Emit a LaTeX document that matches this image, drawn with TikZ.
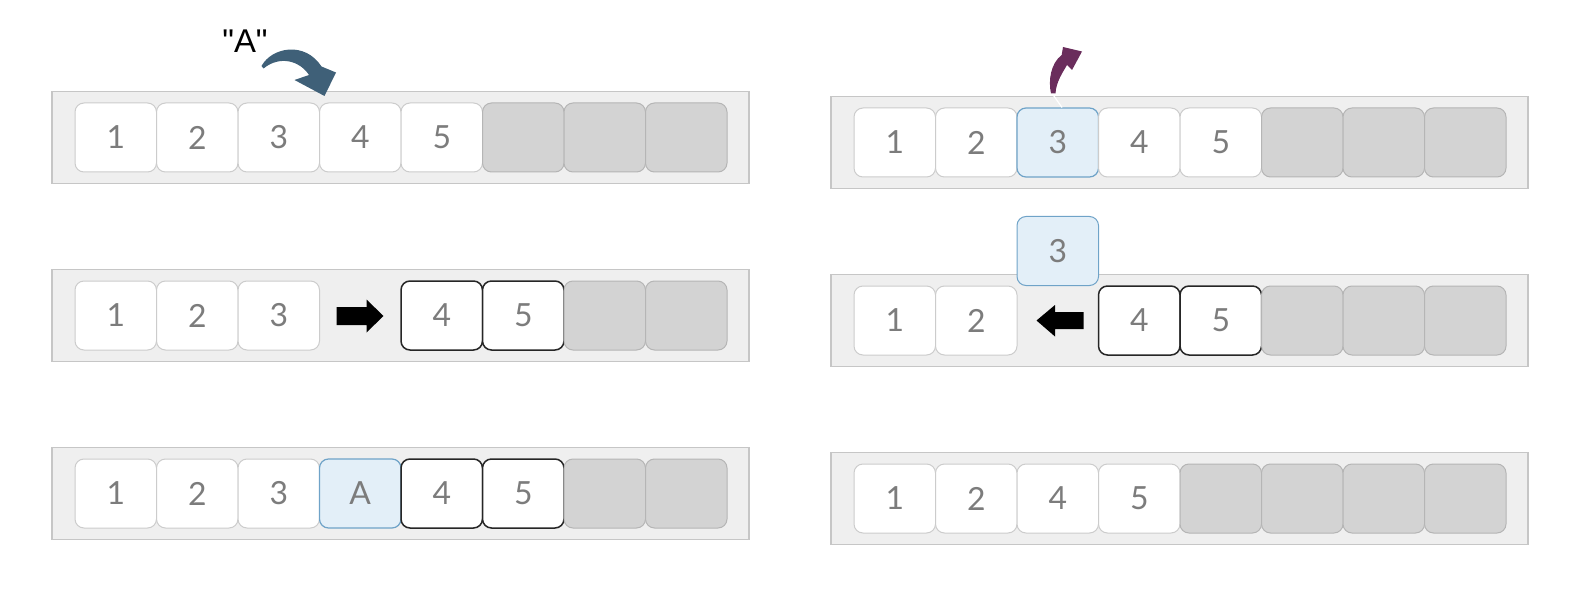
\documentclass[tikz,border=0pt]{standalone}
\usepackage{fontspec}
\setmainfont{Lato}
\newfontfamily\labelfont{Liberation Sans}
\definecolor{contfill}{HTML}{EFEFEF}
\definecolor{contline}{HTML}{C6C6C6}
\definecolor{cellline}{HTML}{CCCCCC}
\definecolor{greyfill}{HTML}{D3D3D3}
\definecolor{greyline}{HTML}{B5B5B5}
\definecolor{bluefill}{HTML}{E3EFF8}
\definecolor{blueline}{HTML}{6FA3C8}
\definecolor{digit}{HTML}{7C7C7C}
\definecolor{slatearrow}{HTML}{3F6078}
\definecolor{plumarrow}{HTML}{6A2D5C}
\tikzset{
  container/.style={draw=contline, fill=contfill, line width=1.2bp, minimum width=697bp, minimum height=92bp, inner sep=0pt},
  cellbase/.style={rounded corners=9bp, minimum width=81.5bp, minimum height=69bp, inner sep=0pt, font=\fontsize{32}{32}\selectfont, text=digit},
  wcell/.style={cellbase, draw=cellline, fill=white, line width=1bp},
  gcell/.style={cellbase, draw=greyline, fill=greyfill, line width=1bp},
  bcell/.style={cellbase, draw=blueline, fill=bluefill, line width=1.2bp},
  kcell/.style={cellbase, draw=black!85, fill=white, line width=1.5bp},
}
\begin{document}
\begin{tikzpicture}[x=1bp,y=-1bp]
\useasboundingbox (0,0) rectangle (1572,610);
% ---------------- left column ----------------
\node[container] (L1) at (400.5,137.5) {};
\node[container] (L2) at (400.5,315.5) {};
\node[container] (L3) at (400.5,493.5) {};
\foreach \i/\s/\t in {1/wcell/1,2/wcell/2,3/wcell/3,4/wcell/4,5/wcell/5,6/gcell/,7/gcell/,8/gcell/}{
  \node[\s] (La\i) at ({115.75+81.5*(\i-1)},137.5) {\t};
}
\foreach \i/\s/\t in {1/wcell/1,2/wcell/2,3/wcell/3,5/kcell/4,6/kcell/5,7/gcell/,8/gcell/}{
  \node[\s] (Lb\i) at ({115.75+81.5*(\i-1)},315.5) {\t};
}
\foreach \i/\s/\t in {1/wcell/1,2/wcell/2,3/wcell/3,4/bcell/A,5/kcell/4,6/kcell/5,7/gcell/,8/gcell/}{
  \node[\s] (Lc\i) at ({115.75+81.5*(\i-1)},493.5) {\t};
}
% ---------------- right column ----------------
\node[container] (R1) at (1179.5,142.5) {};
\node[container] (R2) at (1179.5,320.5) {};
\node[container] (R3) at (1179.5,498.5) {};
\foreach \i/\s/\t in {1/wcell/1,2/wcell/2,3/bcell/3,4/wcell/4,5/wcell/5,6/gcell/,7/gcell/,8/gcell/}{
  \node[\s] (Ra\i) at ({894.75+81.5*(\i-1)},142.5) {\t};
}
\foreach \i/\s/\t in {1/wcell/1,2/wcell/2,4/kcell/4,5/kcell/5,6/gcell/,7/gcell/,8/gcell/}{
  \node[\s] (Rb\i) at ({894.75+81.5*(\i-1)},320.5) {\t};
}
\node[bcell, line width=1bp] (Rfloat) at (1057.75,251) {3};
\foreach \i/\s/\t in {1/wcell/1,2/wcell/2,3/wcell/4,4/wcell/5,5/gcell/,6/gcell/,7/gcell/,8/gcell/}{
  \node[\s] (Rc\i) at ({894.75+81.5*(\i-1)},498.5) {\t};
}
% ---------------- label and curved arrows ----------------
\node[font=\labelfont\fontsize{33}{33}\selectfont, inner sep=0pt] (Alabel) at (245,41) {"A"};
\fill[slatearrow] (261.5,66)
  .. controls (272,47) and (305,41) .. (321.5,66.5)
  -- (336,72.5) -- (324.5,96) -- (294.5,80)
  -- (309,75)
  .. controls (300,61) and (280,55) .. (263.5,68.5) -- cycle;
\fill[plumarrow] (1051,93.5)
  .. controls (1048,80) and (1051,63) .. (1061.7,55)
  -- (1063,47) -- (1082,51.5) -- (1072,70)
  -- (1067,65)
  .. controls (1063,72) and (1056,82) .. (1055.5,93.5) -- cycle;
\draw[white, line width=1.2bp] (1052.5,94) -- (1062,107.5);
% ---------------- block arrows ----------------
\fill[black] (336.5,307) -- (366.5,307) -- (366.5,299.5) -- (383.5,316) -- (366.5,332.5) -- (366.5,325) -- (336.5,325) -- cycle;
\fill[black] (1083.5,312) -- (1055,312) -- (1055,305) -- (1036.5,320.5) -- (1055,336.5) -- (1055,329) -- (1083.5,329) -- cycle;
\end{tikzpicture}
\end{document}
